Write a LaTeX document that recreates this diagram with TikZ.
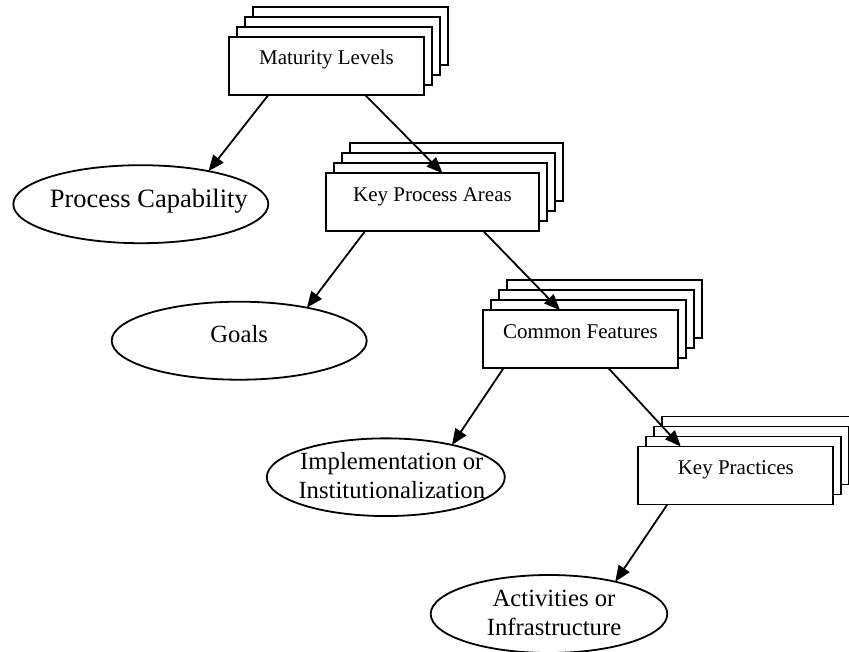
\documentclass[tikz,border=0pt]{standalone}
\usepackage{fontspec}
\setmainfont{Liberation Serif}
\usetikzlibrary{arrows.meta,shapes.geometric}

\begin{document}
\begin{tikzpicture}[x=1pt, y=-1pt,
  card/.style={draw, fill=white, line width=1.9pt, inner sep=0pt, outer sep=0pt, minimum width=195pt, text height=28pt, text depth=30pt, font=\fontsize{21}{24}\selectfont},
  oval/.style={draw, ellipse, line width=1.8pt, inner sep=0pt, outer sep=0pt, minimum width=255pt, minimum height=78pt},
  ovaltext/.style={align=center, inner sep=0pt, font=\fontsize{24.7}{29.5}\selectfont},
  arr/.style={-{Triangle[length=16pt, width=13pt]}, line width=1.8pt}]
 \useasboundingbox (0,0) rectangle (849,651);
 \clip (0,0) rectangle (849,651);
 % stacked copies behind each card
 \foreach \n/\x/\y/\w in {ml/326.5/65.8/195, kpa/432.5/202.2/213, cf/580.5/339.2/195, kp/735.8/475.5/195}
  \foreach \k in {3,2,1}
   \node[card, minimum width=\w pt] (\n\k) at (\x+8*\k, \y-10*\k) {};
 \node[card] (ml) at (326.5,65.8) {Maturity Levels};
 \node[card, minimum width=213pt] (kpa) at (432.5,202.2) {Key Process Areas};
 \node[card] (cf) at (580.5,339.2) {Common Features};
 \node[card] (kp) at (735.8,475.5) {Key Practices};
 % ovals
 \node[oval, label={[ovaltext, font=\fontsize{26.5}{30}\selectfont, xshift=8pt, yshift=3.5pt]center:Process Capability}] (pc) at (140.8,204.2) {};
 \node[oval, label={[ovaltext, yshift=7pt]center:Goals}] (goals) at (239.2,340.7) {};
 \node[oval, minimum width=238pt, minimum height=77.7pt, label={[ovaltext, xshift=6pt, yshift=1.5pt]center:{Implementation or\\Institutionalization}}] (impl) at (385.8,477.2) {};
 \node[oval, minimum width=236.6pt, label={[ovaltext, xshift=5pt, yshift=1pt]center:{Activities or\\Infrastructure}}] (act) at (549,614) {};
 \draw[arr] ([xshift=-58pt]ml.south) -- (pc.26);
 \draw[arr] ([xshift=38.5pt]ml.south) -- ([xshift=10pt]kpa.north);
 \draw[arr] ([xshift=-67.5pt]kpa.south) -- (goals.26);
 \draw[arr] ([xshift=51pt]kpa.south) -- ([xshift=-20.5pt]cf.north);
 \draw[arr] ([xshift=-77pt]cf.south) -- (impl.26);
 \draw[arr] ([xshift=28pt]cf.south) -- ([xshift=-55pt]kp.north);
 \draw[arr] ([xshift=-68.5pt]kp.south) -- (act.26);
\end{tikzpicture}
\end{document}
